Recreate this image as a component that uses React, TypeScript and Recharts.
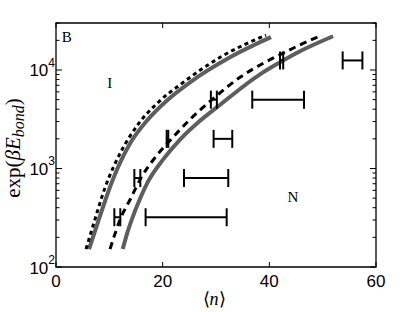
import React from "react";
import {
  ComposedChart,
  Line,
  Scatter,
  ErrorBar,
  XAxis,
  YAxis,
  ReferenceArea,
  ReferenceDot,
} from "recharts";

// left pair of curves
const LEFT_SOLID_N = [6.19, 7.88, 10.5, 13.88, 17.25, 20.81, 25.13, 32.63, 40.31];
const LEFT_SOLID_E = [152, 287, 735, 1791, 3150, 4910, 7500, 13460, 21530];
const LEFT_DASH_N = [5.63, 6.94, 9.19, 12.19, 15.38, 18.94, 23.63, 31.13, 39.38];
const LEFT_DASH_E = [152, 262, 638, 1486, 2800, 4580, 7330, 13800, 22600];

// right pair of curves
const RIGHT_SOLID_N = [12.51, 13.31, 14.19, 15.75, 17.25, 20.06, 23.25, 26.63, 30.38, 38.25, 42.0, 45.75, 51.94];
const RIGHT_SOLID_E = [152, 217, 301, 493, 735, 1230, 1967, 2931, 4266, 9040, 11970, 15490, 22030];
const RIGHT_DASH_N = [10.13, 11.06, 12.0, 13.88, 16.07, 18.56, 21.38, 25.13, 28.88, 34.5, 39.19, 42.19, 45.19, 49.88];
const RIGHT_DASH_E = [152, 217, 301, 482, 826, 1288, 1923, 3150, 4800, 8430, 11970, 14450, 17420, 22540];

// horizontal error bars: centre, half width, level
const BAR_N = [55.6, 42.3, 41.65, 29.6, 31.3, 20.9, 28.15, 15.25, 24.4, 11.5];
const BAR_ERR = [1.85, 0.3, 4.85, 0.56, 1.75, 0.15, 4.15, 0.56, 7.6, 0.56];
const BAR_E = [12500, 12500, 5000, 5000, 2000, 2000, 800, 800, 320, 320];

const X_TICKS = [0, 20, 40, 60];
const Y_MAJOR = [100, 1000, 10000];
const Y_TICKS = [
  100, 200, 300, 400, 500, 600, 700, 800, 900,
  1000, 2000, 3000, 4000, 5000, 6000, 7000, 8000, 9000,
  10000, 20000, 30000,
];

const zip = (ns: number[], es: number[]) => ns.map((n, i) => ({ n, E: es[i] }));
const leftSolid = zip(LEFT_SOLID_N, LEFT_SOLID_E);
const leftDash = zip(LEFT_DASH_N, LEFT_DASH_E);
const rightSolid = zip(RIGHT_SOLID_N, RIGHT_SOLID_E);
const rightDash = zip(RIGHT_DASH_N, RIGHT_DASH_E);
const bars = BAR_N.map((n, i) => ({ n, E: BAR_E[i], err: BAR_ERR[i] }));

const PLOT_W = 320;
const PLOT_H = 244;
const SANS = "'Liberation Sans', Arial, sans-serif";
const SERIF = "'Liberation Serif', 'Times New Roman', serif";

function XTick(props: any) {
  const { x, y, payload } = props;
  return (
    <g>
      <line x1={x} x2={x} y1={y} y2={y - 5} stroke="#000" />
      <line x1={x} x2={x} y1={y - PLOT_H} y2={y - PLOT_H + 5} stroke="#000" />
      <text x={x} y={y + 20} textAnchor="middle" fontSize={17} fontFamily={SANS} fill="#000">
        {payload.value}
      </text>
    </g>
  );
}

function YTick(props: any) {
  const { x, y, payload } = props;
  const v = payload.value;
  const major = Y_MAJOR.includes(v);
  const len = major ? 6 : 3.5;
  return (
    <g>
      <line x1={x} x2={x + len} y1={y} y2={y} stroke="#000" />
      <line x1={x + PLOT_W} x2={x + PLOT_W - len} y1={y} y2={y} stroke="#000" />
      {major && (
        <text x={x - 1} y={y + 6.5} textAnchor="end" fontSize={17} fontFamily={SANS} fill="#000">
          10
          <tspan dy={-9.5} fontSize={12}>
            {Math.round(Math.log10(v))}
          </tspan>
        </text>
      )}
    </g>
  );
}

const YLabel = () => (
  <text
    transform="translate(20, 148) rotate(-90)"
    textAnchor="middle"
    fontSize={21}
    fontFamily={SERIF}
    fill="#000"
  >
    exp(<tspan fontStyle="italic">βE</tspan>
    <tspan fontStyle="italic" fontSize={16} dy={4}>bond</tspan>
    <tspan dy={-4}>)</tspan>
  </text>
);

const XLabel = () => (
  <text x={214} y={305} textAnchor="middle" fontSize={18} fontFamily={SERIF} fill="#000">
    ⟨<tspan fontStyle="italic">n</tspan>⟩
  </text>
);

const label = (value: string) => ({
  value,
  position: "center" as const,
  fontSize: 15,
  fontFamily: SERIF,
  fill: "#000",
});

export default function App() {
  return (
    <div style={{ position: "absolute", left: 0, top: 0, background: "#fff" }}>
      <ComposedChart
        width={415}
        height={312}
        margin={{ top: 23, right: 39, bottom: 44, left: 55 }}
      >
        <XAxis
          type="number"
          dataKey="n"
          domain={[0, 60]}
          ticks={X_TICKS}
          interval={0}
          allowDataOverflow
          axisLine={false}
          tickLine={false}
          tickSize={0}
          tickMargin={0}
          height={1}
          tick={(p: any) => <XTick {...p} />}
        />
        <YAxis
          type="number"
          dataKey="E"
          scale="log"
          domain={[100, 30000]}
          ticks={Y_TICKS}
          interval={0}
          allowDataOverflow
          axisLine={false}
          tickLine={false}
          tickSize={0}
          tickMargin={0}
          width={1}
          tick={(p: any) => <YTick {...p} />}
        />
        <ReferenceArea
          x1={0}
          x2={60}
          y1={100}
          y2={30000}
          fill="none"
          stroke="#000"
          strokeWidth={1.3}
          ifOverflow="visible"
        />
        <Line data={leftSolid} dataKey="E" type="monotone" stroke="#5e5e5e" strokeWidth={4} dot={false} isAnimationActive={false} />
        <Line data={rightSolid} dataKey="E" type="monotone" stroke="#5e5e5e" strokeWidth={4} dot={false} isAnimationActive={false} />
        <Line data={leftDash} dataKey="E" type="monotone" stroke="#000" strokeWidth={3} strokeDasharray="4 3.5" dot={false} isAnimationActive={false} />
        <Line data={rightDash} dataKey="E" type="monotone" stroke="#000" strokeWidth={3} strokeDasharray="7 5" dot={false} isAnimationActive={false} />
        <Scatter data={bars} shape={() => <g />} isAnimationActive={false}>
          <ErrorBar dataKey="err" direction="x" width={9} strokeWidth={2} stroke="#000" />
        </Scatter>
        <ReferenceDot x={2} y={22000} r={0} label={label("B")} />
        <ReferenceDot x={10.1} y={7500} r={0} label={label("I")} />
        <ReferenceDot x={44.4} y={516} r={0} label={label("N")} />
        <YLabel />
        <XLabel />
      </ComposedChart>
    </div>
  );
}
